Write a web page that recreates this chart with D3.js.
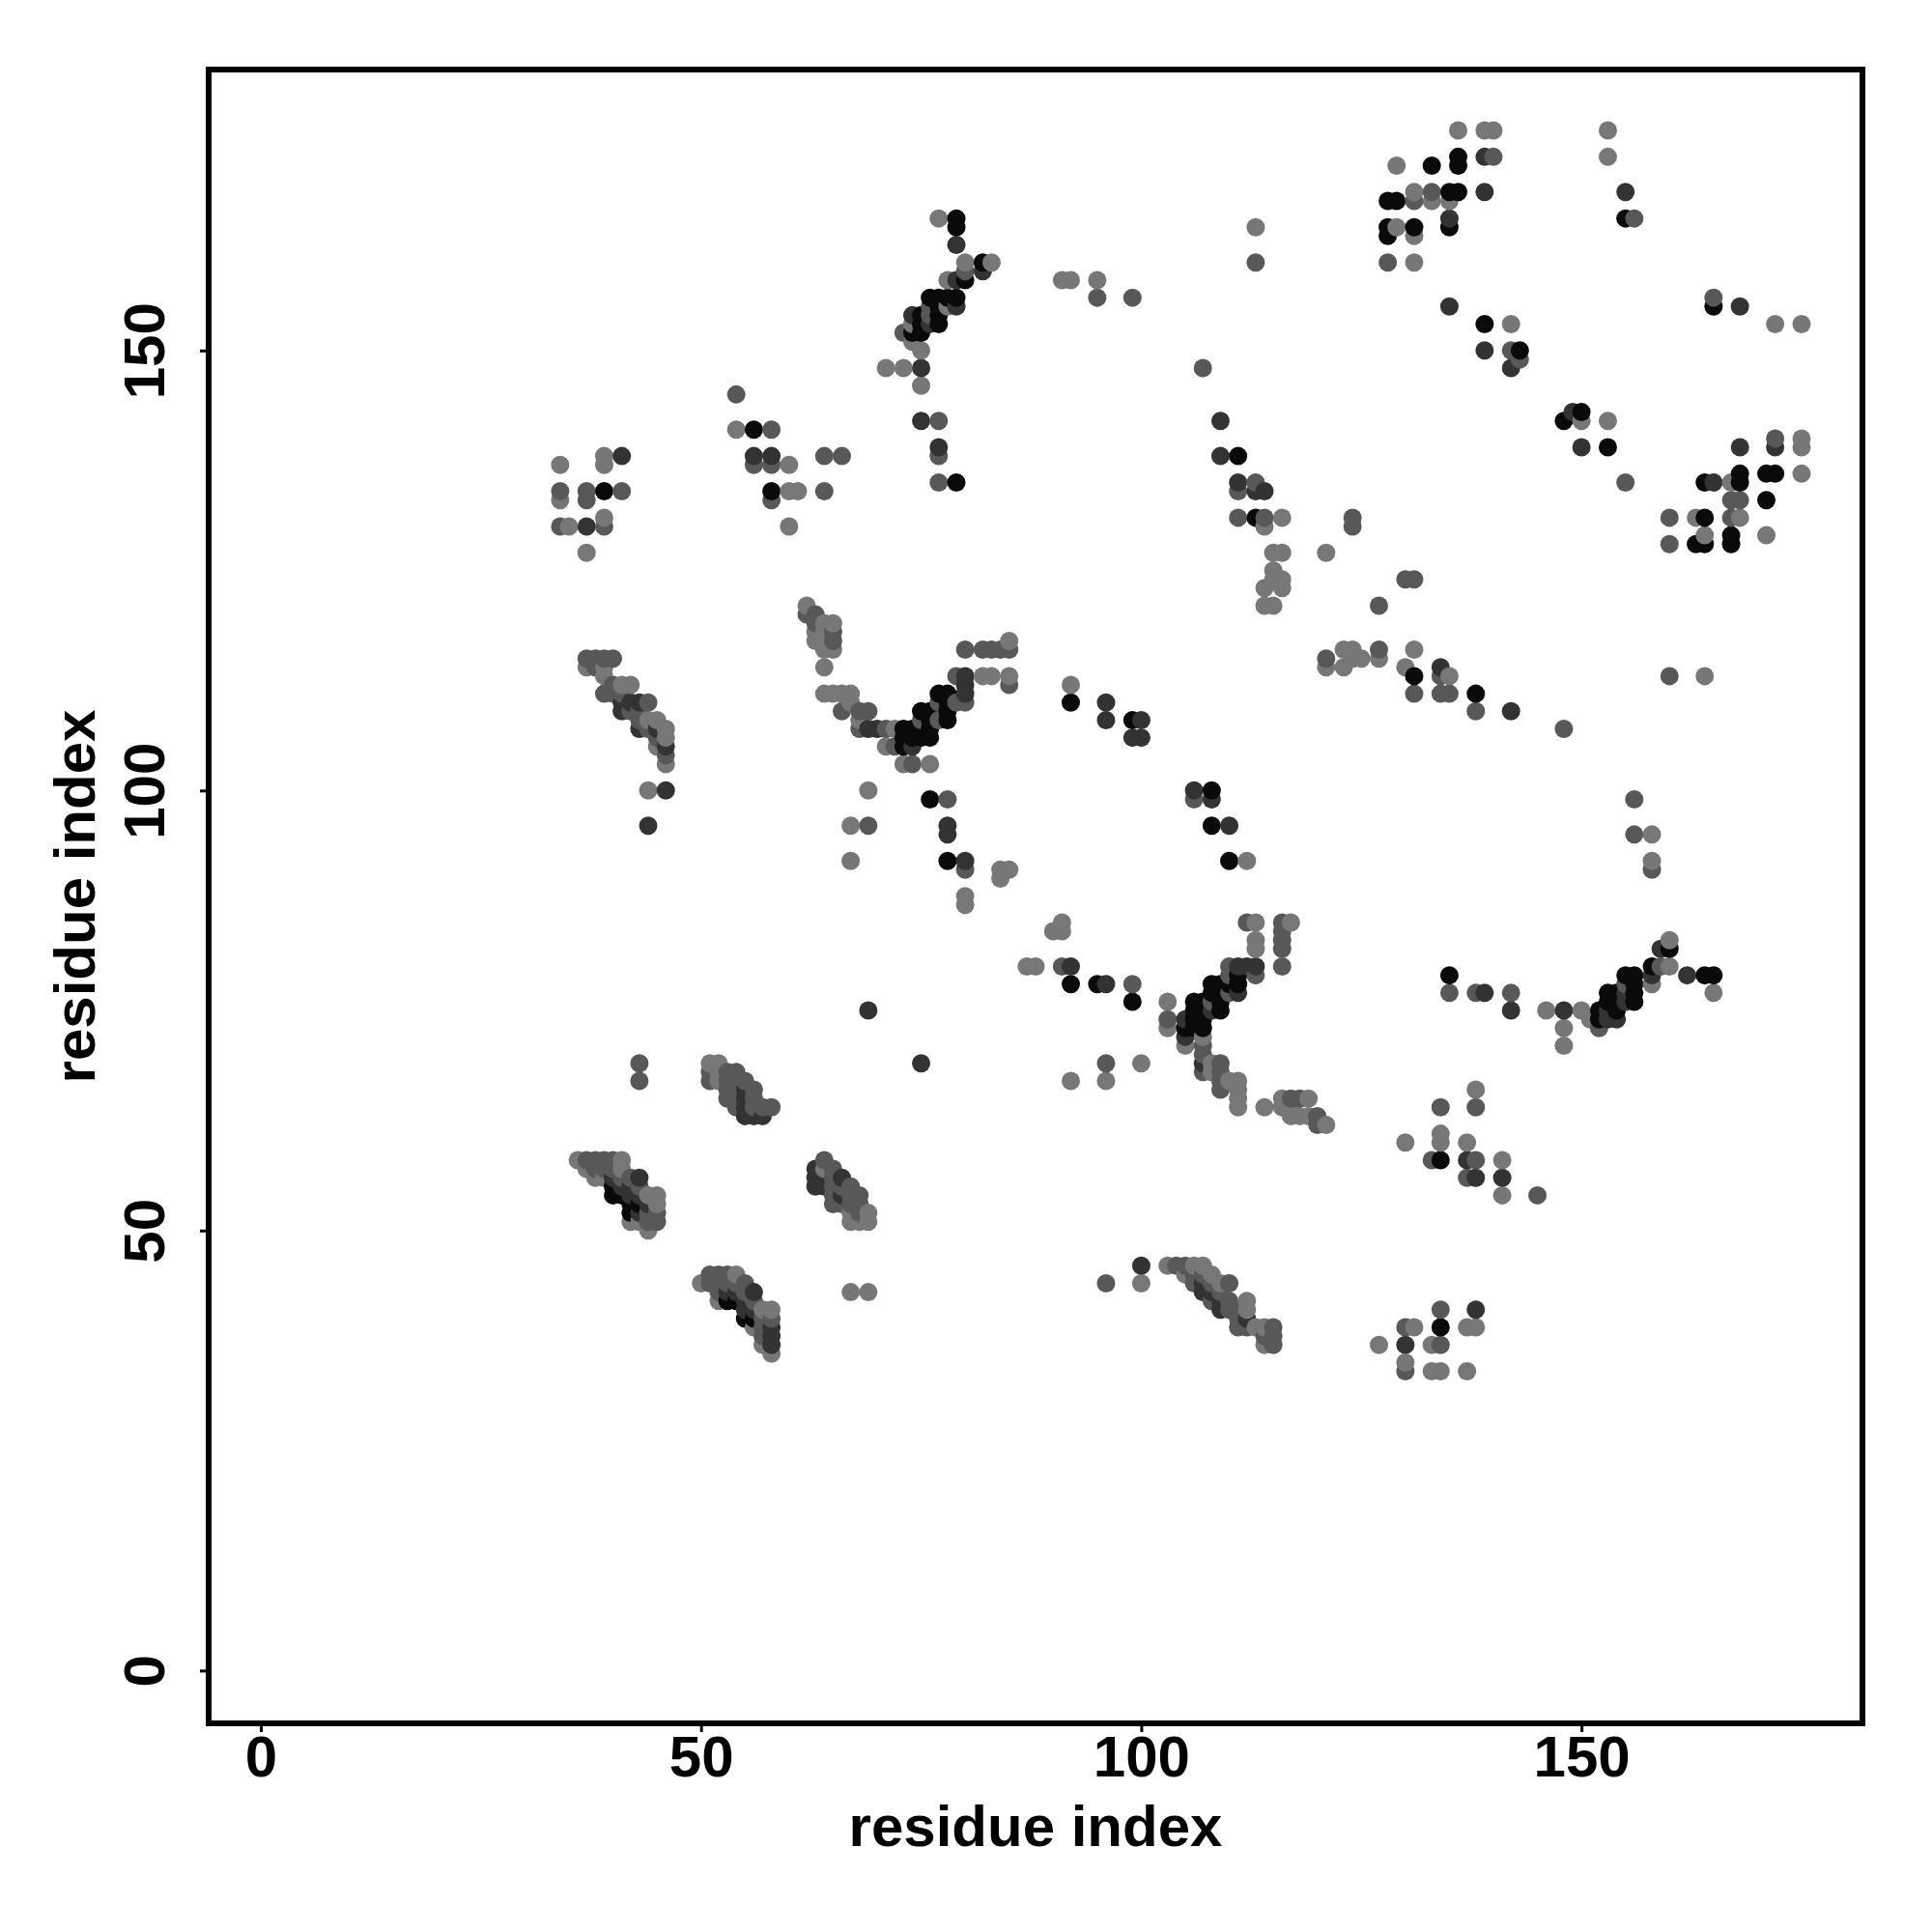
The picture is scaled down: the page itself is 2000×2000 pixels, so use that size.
<!DOCTYPE html>
<html><head><meta charset="utf-8"><style>html,body{margin:0;background:#fff}svg{display:block}</style>
<script src="https://cdn.jsdelivr.net/npm/d3@7"></script></head><body><svg id="c" width="2000" height="2000"></svg>
<script>
// each contact: [residue i, residue j, strength class 1 (weak) .. 4 (strong)]
const xTicks=[0,50,100,150], yTicks=[0,50,100,150];
const axisLabel="residue index";
const clusterA=[[36,58,1],[37,58,2],[38,58,2],[39,58,2],[40,58,2],[41,58,1],[37,57,1],[38,57,2],[39,57,2],[40,57,2],[41,57,1],[38,56,1],[39,56,1],[40,56,3],[41,56,2],[42,56,2],[43,56,3],[40,55,4],[41,55,3],[42,55,3],[43,55,2],[40,54,4],[41,54,4],[42,54,3],[43,54,3],[44,54,1],[45,54,1],[42,53,4],[43,53,4],[44,53,3],[45,53,1],[42,52,4],[43,52,3],[44,52,2],[45,52,2],[42,51,1],[43,51,1],[44,51,2],[45,51,2],[44,50,1]];
const clusterB=[[50,44,1],[51,45,2],[52,45,2],[53,45,2],[54,45,1],[51,44,2],[52,44,2],[53,44,2],[54,44,2],[55,44,2],[52,43,2],[53,43,3],[54,43,3],[55,43,2],[56,43,3],[52,42,1],[53,42,4],[54,42,4],[55,42,3],[56,42,2],[57,41,1],[58,41,1],[55,41,3],[56,41,3],[55,40,4],[56,40,4],[57,40,2],[58,40,2],[56,39,1],[57,39,2],[58,39,3],[57,38,2],[58,38,3],[57,37,1],[58,37,3],[58,36,1]];
const clusterC=[[64,58,2],[63,57,3],[64,57,1],[65,57,2],[63,56,3],[64,56,3],[65,56,2],[66,56,3],[63,55,3],[64,55,3],[65,55,2],[66,55,2],[67,55,2],[65,54,2],[66,54,3],[67,54,2],[68,54,2],[65,53,2],[66,53,2],[67,53,2],[68,53,2],[67,52,1],[68,52,2],[69,52,1],[67,51,1],[68,51,1],[69,51,1],[67,43,1],[69,43,1]];
const clusterD=[[51,69,1],[52,69,1],[51,68,2],[52,68,1],[53,68,2],[54,68,2],[51,67,2],[52,67,1],[53,67,2],[54,67,2],[55,67,2],[53,66,2],[54,66,2],[55,66,3],[56,66,2],[53,65,2],[54,65,2],[55,65,3],[56,65,2],[54,64,2],[55,64,3],[56,64,2],[57,64,2],[58,64,2],[55,63,3],[56,63,3],[57,63,3],[43,69,2],[43,67,2],[69,75,3],[75,69,3]];
const clusterE=[[37,115,2],[38,115,2],[39,115,2],[40,115,2],[37,114,1],[38,114,2],[39,114,1],[39,113,1],[40,112,2],[41,112,1],[42,112,1],[39,111,2],[40,111,2],[41,111,2],[41,110,3],[42,110,3],[43,110,3],[44,110,2],[41,109,3],[42,109,2],[43,109,2],[43,108,2],[44,108,1],[45,108,1],[43,107,3],[44,107,2],[45,107,3],[46,107,1],[45,106,2],[46,106,1],[45,105,1],[46,105,3],[46,104,2],[46,103,1],[44,100,1],[46,100,3],[44,96,3]];
const clusterF=[[96,44,2],[100,46,3],[100,44,1],[103,46,1],[104,46,2],[105,46,2],[106,46,1],[107,46,1],[105,45,1],[106,45,2],[107,45,2],[108,45,1],[106,44,2],[107,44,3],[108,44,2],[109,44,1],[110,44,2],[107,43,3],[108,43,3],[109,43,2],[108,42,2],[109,42,3],[110,42,2],[112,42,1],[109,41,3],[110,41,2],[111,41,2],[112,41,1],[111,40,2],[112,40,3],[111,39,2],[112,39,2],[113,39,1],[114,39,1],[115,39,2],[114,38,2],[115,38,2],[114,37,1],[115,37,2]];
const clusterG=[[127,37,1],[130,39,2],[131,39,1],[130,37,3],[130,35,1],[130,34,2],[133,37,1],[134,37,2],[134,39,4],[134,41,2],[133,34,1],[134,34,1],[137,34,1],[137,39,1],[138,39,1],[138,41,3]];
const clusterH=[[130,60,1],[134,64,2],[138,66,1],[138,64,2],[134,61,1],[134,60,1],[133,58,2],[134,58,4],[137,60,1],[137,58,3],[138,58,2],[137,56,2],[138,56,3],[141,58,1],[141,56,3],[141,54,1],[145,54,2]];
const clusterI=[[91,80,2],[92,80,3],[92,78,4],[95,78,4],[96,78,3],[99,78,2],[99,76,4],[103,76,1],[103,74,2],[103,73,1],[91,85,1],[91,84,1],[90,84,1],[87,80,1],[88,80,1],[92,67,1],[96,69,2],[96,67,1],[100,69,1],[112,85,2],[113,85,1],[113,83,1],[113,82,1],[116,85,2],[117,85,1],[116,84,2],[116,83,2],[116,82,2],[116,80,2],[105,74,3],[105,73,4],[105,72,3],[105,71,1],[106,76,4],[106,74,4],[106,75,4],[106,73,4],[107,73,4],[107,72,1],[107,75,4],[107,76,4],[107,74,4],[108,78,4],[108,76,2],[108,75,3],[108,77,4],[109,78,4],[109,76,4],[109,75,4],[109,77,4],[110,80,2],[110,79,2],[110,77,2],[110,78,4],[111,80,3],[111,79,4],[111,78,4],[111,77,3],[112,80,3],[113,80,3],[113,79,2],[107,71,2],[107,70,2],[107,69,3],[107,68,2],[108,69,1],[109,69,2],[108,68,1],[109,68,2],[109,67,2],[109,66,2],[110,67,1],[111,67,1],[111,66,1],[111,65,1],[111,64,1],[114,64,1],[116,65,1],[116,64,1],[117,65,2],[118,65,2],[119,65,1],[117,64,1],[117,63,1],[118,63,1],[119,63,1],[120,63,2],[120,62,2],[121,62,1]];
const clusterJ=[[135,79,4],[135,77,2],[138,77,2],[139,77,3],[142,77,2],[142,75,3],[146,75,1],[148,75,3],[148,73,1],[148,71,1],[150,75,1],[151,74,1],[152,73,2],[152,75,4],[152,74,4],[153,74,3],[153,75,3],[153,77,4],[153,76,4],[154,77,4],[154,74,3],[154,75,4],[154,76,4],[155,79,4],[155,78,2],[155,77,3],[155,76,3],[156,79,4],[156,78,4],[156,77,4],[156,76,4],[158,80,4],[158,79,3],[158,78,1],[159,82,3],[159,80,2],[160,82,4],[160,83,1],[160,80,1],[162,79,3],[164,79,4],[165,79,4],[165,77,1],[156,99,2],[156,95,2],[158,95,1],[158,92,1],[158,91,2]];
const clusterK=[[62,121,1],[62,120,2],[63,120,2],[63,119,2],[63,118,1],[63,117,1],[64,119,1],[64,118,1],[64,117,1],[65,119,1],[65,118,2],[65,117,2],[65,116,1],[64,116,1],[64,114,1],[64,111,1],[65,111,1],[66,111,1],[67,111,1],[66,109,2],[67,110,1],[68,109,2],[69,109,2],[68,108,1],[68,107,2],[69,107,3],[70,107,3],[71,107,2],[72,107,1],[71,105,1],[72,105,2],[73,107,4],[73,106,4],[73,105,4],[74,107,4],[74,105,3],[74,106,4],[75,109,4],[75,106,4],[75,107,4],[75,108,2],[76,106,4],[76,108,4],[76,109,4],[76,107,4],[77,111,4],[77,110,2],[78,111,4],[78,110,4],[78,109,4],[78,108,4],[77,108,2],[79,113,2],[80,113,3],[80,112,3],[80,111,3],[79,110,2],[80,110,2],[80,116,2],[82,116,2],[83,116,2],[84,116,2],[85,116,2],[85,117,1],[82,113,1],[83,113,1],[85,113,1],[85,112,2],[73,103,1],[74,103,2],[76,103,1],[69,100,1],[76,99,4],[78,99,2],[67,96,1],[69,96,2],[78,96,3],[78,95,3],[67,92,1],[78,92,4],[80,92,3],[80,91,2],[80,88,1],[80,87,1],[84,91,1],[85,91,1],[84,90,1]];
const clusterL=[[92,112,1],[92,110,4],[96,110,3],[96,108,3],[99,108,4],[100,108,3],[99,106,3],[100,106,3],[106,100,3],[108,100,4],[106,99,2],[108,99,3],[108,96,4],[110,96,3],[110,92,4],[112,92,1],[121,127,1],[124,131,2],[124,130,2],[127,121,2],[130,124,2],[131,124,2],[111,131,2],[114,131,2],[113,131,4],[116,131,1],[114,130,1],[115,127,1],[116,127,1],[115,125,1],[115,124,1],[116,124,1],[114,123,1],[116,123,1],[114,121,1],[115,121,1],[107,148,2],[109,142,3],[109,138,3],[111,138,4],[111,135,3],[111,134,2],[113,135,2],[113,134,3],[114,134,3],[113,164,1],[113,160,2]];
const clusterM=[[77,165,1],[79,165,4],[79,164,4],[79,162,3],[80,160,1],[82,160,4],[83,160,1],[82,159,3],[80,159,2],[80,158,4],[78,158,1],[79,158,3],[76,156,4],[77,156,4],[78,156,4],[79,156,4],[76,155,2],[77,155,4],[78,155,1],[79,155,3],[74,154,3],[75,154,4],[76,154,2],[77,154,4],[74,153,1],[75,153,4],[76,153,3],[77,153,4],[73,152,2],[74,152,4],[75,152,4],[74,151,1],[75,150,1],[71,148,1],[73,148,1],[75,148,3],[75,146,1],[75,142,3],[77,142,2],[77,139,3],[77,138,2],[77,135,2],[79,135,4]];
const clusterN=[[136,175,1],[139,175,1],[140,175,1],[136,172,4],[139,172,3],[140,172,2],[136,171,4],[129,171,1],[133,171,4],[131,168,1],[133,168,2],[135,168,4],[136,168,4],[139,168,3],[128,167,4],[129,167,4],[131,167,2],[133,167,1],[135,167,1],[135,165,3],[135,164,4],[128,164,4],[129,164,1],[131,164,4],[128,163,4],[131,163,1],[128,160,2],[131,160,1]];
const clusterO=[[153,142,1],[153,139,4],[155,135,2],[160,131,2],[160,128,2],[163,131,1],[164,131,4],[163,128,4],[164,128,4],[164,129,1],[164,135,4],[165,135,3],[167,135,1],[168,136,4],[168,135,4],[167,133,2],[168,133,2],[167,131,2],[168,131,1],[167,129,4],[167,128,4],[168,139,3],[171,136,4],[172,136,4],[171,133,4],[171,129,1],[172,140,2],[172,139,3],[175,140,1],[175,139,1],[175,136,1]];
const clusterP=[[148,142,4],[149,143,3],[150,143,4],[150,142,1],[150,139,3],[135,155,3],[139,153,4],[142,153,1],[139,150,3],[142,150,2],[143,150,4],[143,149,2],[142,148,3],[153,175,1],[153,172,1],[155,168,3],[155,165,4],[156,165,2],[165,156,2],[165,155,4],[168,155,3],[172,153,1],[175,153,1],[160,113,2],[164,113,1]];
const clusterQ=[[148,107,2],[142,109,3],[138,109,2],[138,111,4],[135,111,2],[134,111,2],[131,111,2],[131,113,4],[131,116,1],[130,114,1],[134,114,3],[135,113,1],[134,113,2],[121,115,2],[121,114,1],[123,114,1],[123,116,1],[124,116,1],[124,115,1],[125,115,1],[127,116,2],[127,115,1]];
const clusterR=[[34,137,1],[34,134,2],[34,133,1],[34,130,2],[35,130,1],[37,134,2],[37,133,2],[37,130,3],[37,127,1],[39,138,1],[39,137,1],[41,138,3],[39,134,4],[41,134,2],[39,131,1],[39,130,2],[54,145,2],[54,141,1],[56,141,4],[58,141,2],[56,138,3],[56,137,2],[58,138,3],[58,137,2],[60,137,1],[58,134,4],[58,133,2],[60,134,1],[61,134,1],[60,130,1],[64,138,2],[66,138,2],[64,134,2],[91,158,1],[92,158,1],[95,158,1],[95,156,2],[99,156,2]];

const contacts=[clusterA,clusterB,clusterC,clusterD,clusterE,clusterF,clusterG,clusterH,clusterI,clusterJ,clusterK,clusterL,clusterM,clusterN,clusterO,clusterP,clusterQ,clusterR].flat()
  .sort((a,b)=>d3.ascending(a[0],b[0])||d3.ascending(a[1],b[1]));

const x=d3.scaleLinear().domain([-5.925,181.915]).range([216,1928]);
const y=d3.scaleLinear().domain([-6,181.92]).range([1784,72]);
const grey=d3.scaleOrdinal().domain([1,2,3,4]).range(["#777777","#585858","#333333","#0a0a0a"]);
const svg=d3.select("#c");
const font="'Liberation Sans',Arial,sans-serif";

svg.append("g").selectAll("circle").data(contacts).join("circle")
  .attr("cx",d=>x(d[0])).attr("cy",d=>y(d[1])).attr("r",9.5).attr("fill",d=>grey(d[2]));

const gx=svg.append("g").attr("transform","translate(0,1784)")
  .call(d3.axisBottom(x).tickValues(xTicks).tickSize(9).tickFormat(d3.format("d")));
const gy=svg.append("g").attr("transform","translate(216,0)")
  .call(d3.axisLeft(y).tickValues(yTicks).tickSize(9).tickFormat(d3.format("d")));
gx.select(".domain").remove(); gy.select(".domain").remove();
svg.selectAll(".tick line").attr("stroke","#000").attr("stroke-width",3);
gx.selectAll("text").attr("font-family",font).attr("font-weight","bold").attr("font-size",60).attr("fill","#000")
  .attr("y",55).attr("dy",0);
gy.selectAll("text").attr("font-family",font).attr("font-weight","bold").attr("font-size",60).attr("fill","#000")
  .attr("dy",0).attr("x",0).attr("text-anchor","middle")
  .attr("transform","translate(-46,0) rotate(-90)");

svg.append("rect").attr("x",216).attr("y",72).attr("width",1712).attr("height",1712)
  .attr("fill","none").attr("stroke","#000").attr("stroke-width",6);

svg.append("text").attr("x",1072).attr("y",1911).attr("text-anchor","middle")
  .attr("font-family",font).attr("font-weight","bold").attr("font-size",60).text(axisLabel);
svg.append("text").attr("transform","translate(98,928) rotate(-90)").attr("text-anchor","middle")
  .attr("font-family",font).attr("font-weight","bold").attr("font-size",60).text(axisLabel);
</script></body></html>
